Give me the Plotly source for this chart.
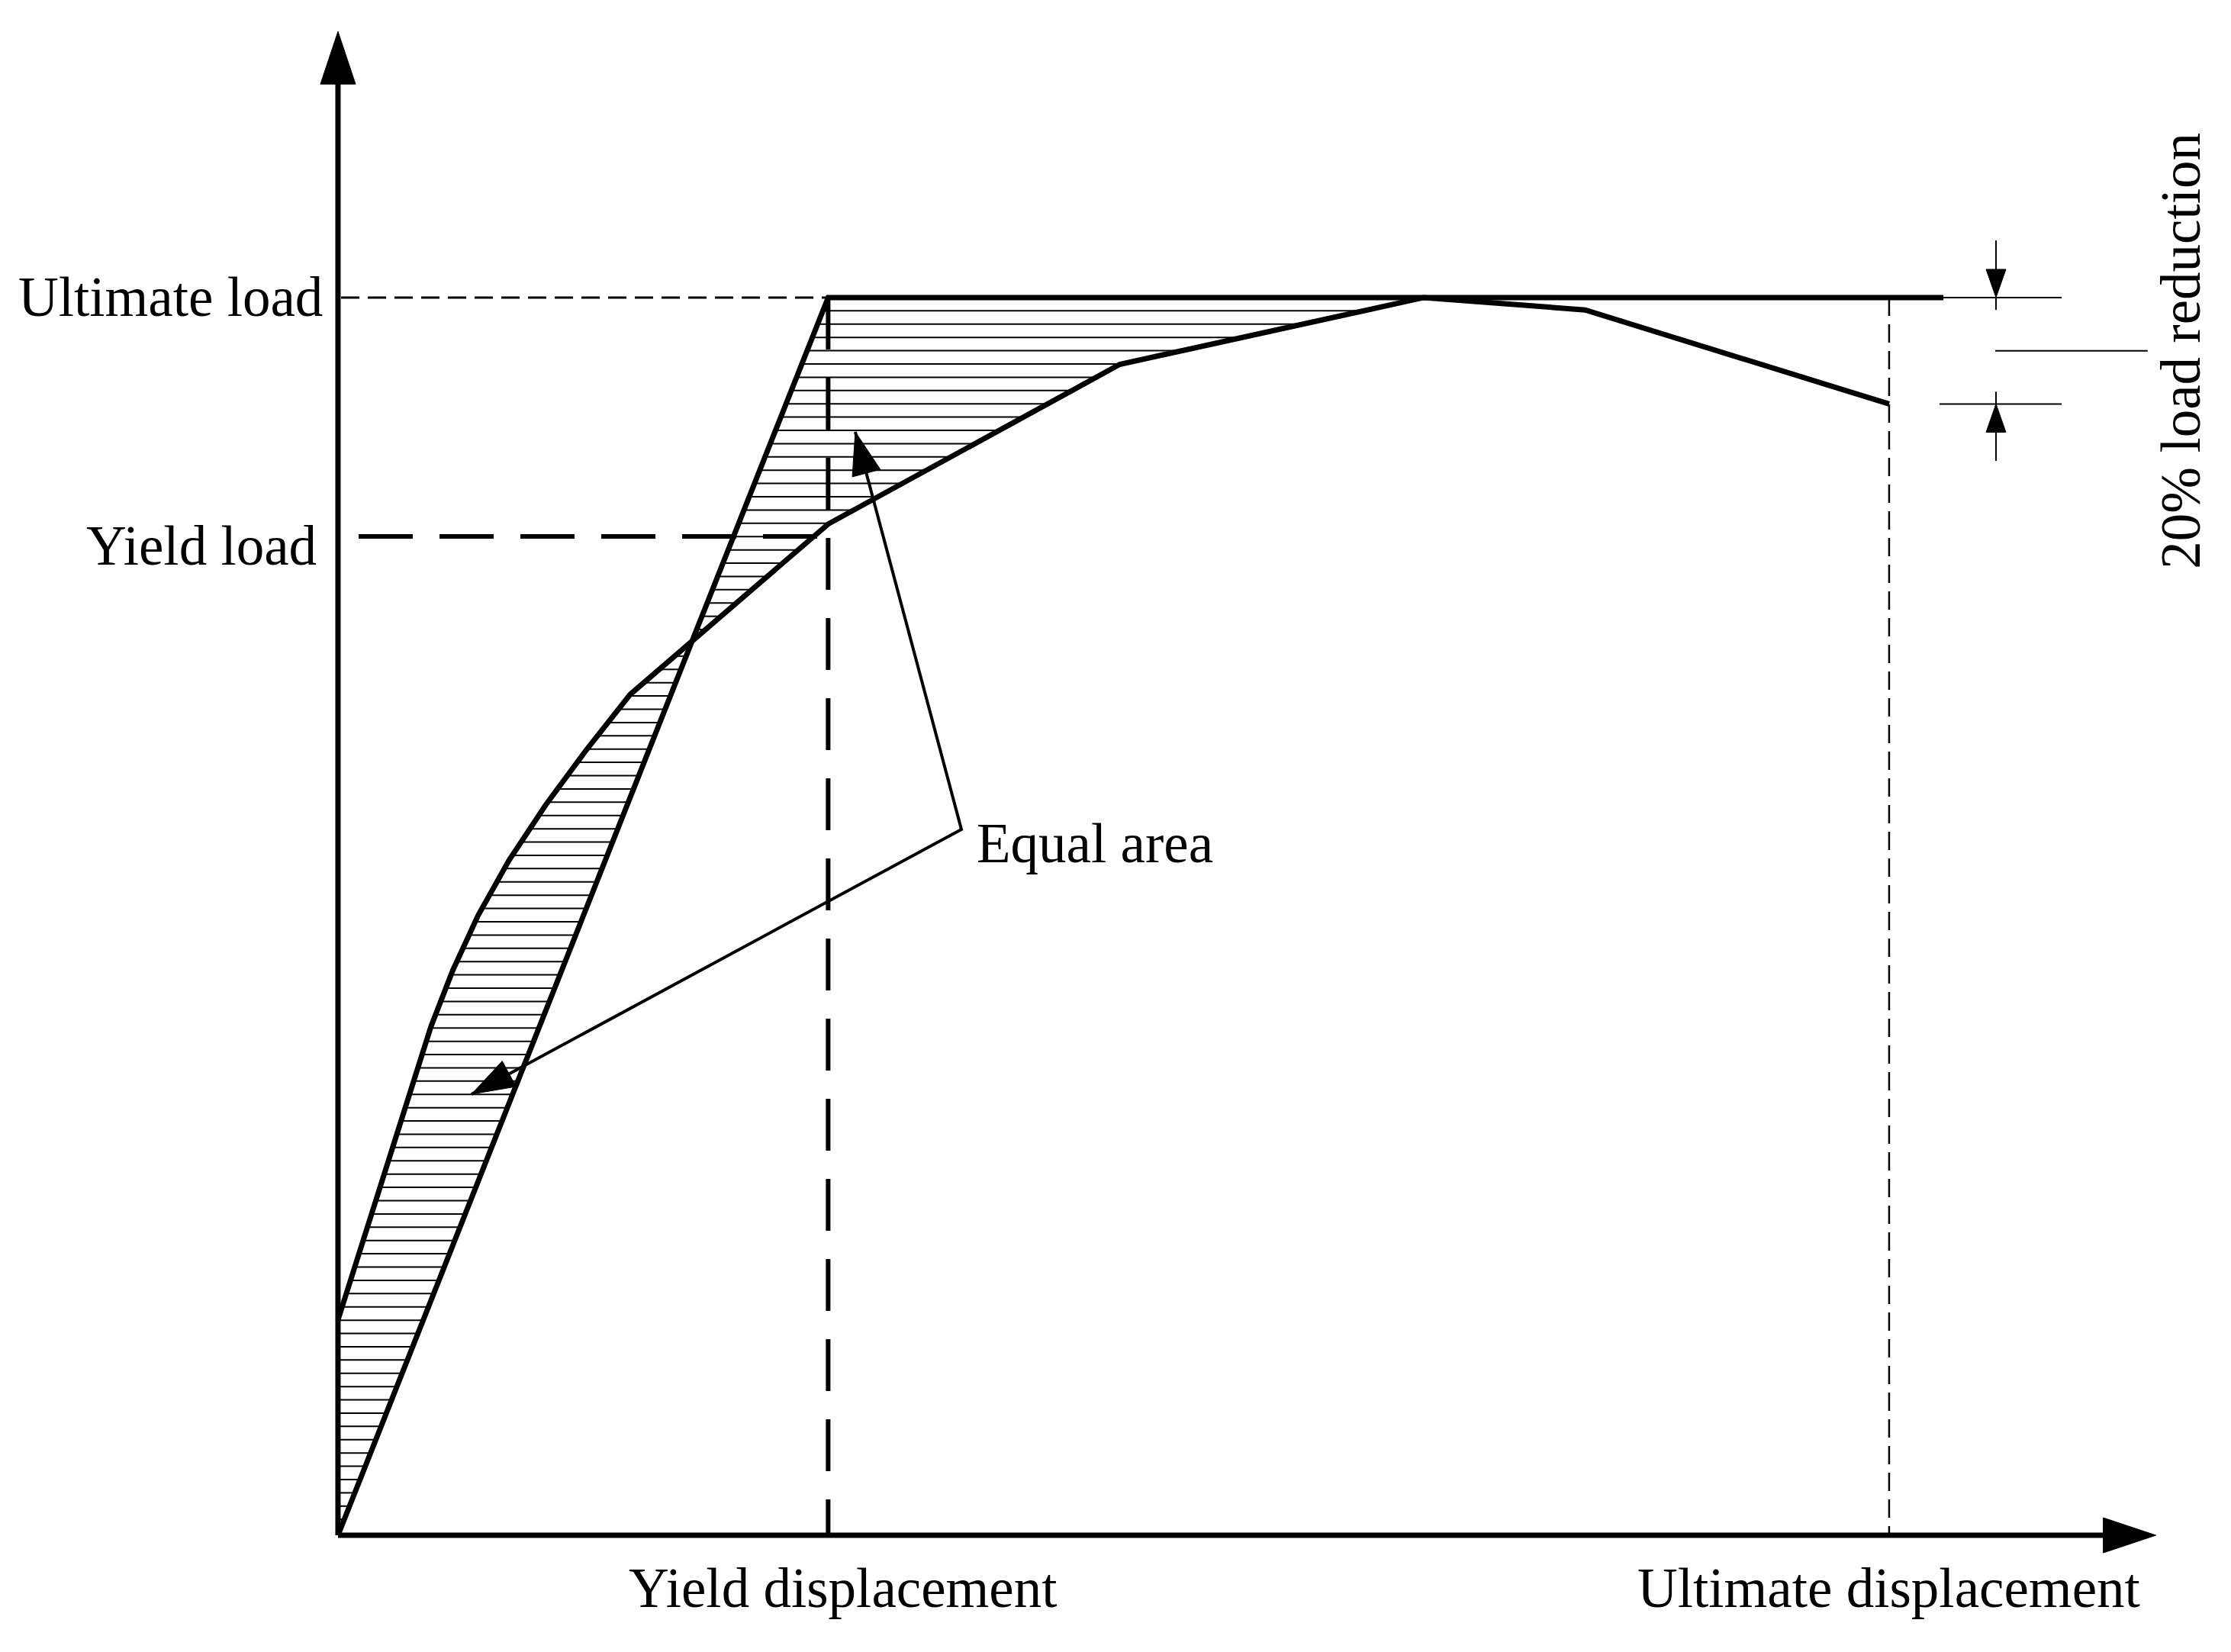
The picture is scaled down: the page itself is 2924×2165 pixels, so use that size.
import numpy as np
import plotly.graph_objects as go

# ---------------- data (normalised: displacement / ultimate displacement, load / ultimate load)
DISP_YIELD = 0.316
DISP_ULT = 1.0
LOAD_YIELD = 0.807
LOAD_ULT = 1.0

curve_disp = [0.0, 0.0600, 0.0739, 0.0903, 0.1103, 0.1339, 0.1602, 0.1884, 0.316, 0.504, 0.700, 0.804, 1.0]
curve_load = [0.174, 0.4112, 0.4561, 0.5007, 0.5454, 0.5900, 0.6347, 0.6794, 0.817, 0.946, 1.0, 0.990, 0.914]

bilinear_disp = [0.0, DISP_YIELD, 1.035]
bilinear_load = [0.0, LOAD_ULT, LOAD_ULT]

labels_y = ["Ultimate load", "Yield load"]
labels_x = ["Yield displacement", "Ultimate displacement"]
label_note = "Equal area"
label_reduction = "20% load reduction"

# ---------------- layout constants
W, H = 2924, 2165
X_RANGE = [-0.2179, 1.2204]
Y_RANGE = [-0.0943, 1.2404]
X_AXIS_END = 1.172
Y_AXIS_END = 1.215
SX = W / (X_RANGE[1] - X_RANGE[0])   # px per unit
SY = H / (Y_RANGE[1] - Y_RANGE[0])
HATCH_STEP = 0.01073
FONT = dict(family="Liberation Serif, Times New Roman, serif", size=73, color="black")

fig = go.Figure()


def add_line(xs, ys, width, dash="solid"):
    fig.add_trace(go.Scatter(x=xs, y=ys, mode="lines",
                             line=dict(color="black", width=width, dash=dash),
                             hoverinfo="skip"))


def add_head(tip, frm, length, half):
    tx, ty = tip[0] * SX, -tip[1] * SY
    fx, fy = frm[0] * SX, -frm[1] * SY
    d = np.array([tx - fx, ty - fy])
    u = d / np.linalg.norm(d)
    n = np.array([-u[1], u[0]])
    b = np.array([tx, ty]) - u * length
    p1 = b + n * half
    p2 = b - n * half
    xs = [tx / SX, p1[0] / SX, p2[0] / SX, tx / SX]
    ys = [-ty / SY, -p1[1] / SY, -p2[1] / SY, -ty / SY]
    fig.add_trace(go.Scatter(x=xs, y=ys, mode="lines", fill="toself",
                             fillcolor="black", line=dict(color="black", width=1),
                             hoverinfo="skip"))


# ---------------- hatching between curve and bilinear idealisation
cd = np.array(curve_disp)
cl = np.array(curve_load)
diff = cl - cd / DISP_YIELD * LOAD_ULT
idx = int(np.where(np.sign(diff[:-1]) != np.sign(diff[1:]))[0][0])
t = diff[idx] / (diff[idx] - diff[idx + 1])
cx = cd[idx] + t * (cd[idx + 1] - cd[idx])
cy = cl[idx] + t * (cl[idx + 1] - cl[idx])
peak = int(np.argmax(cl))

poly_low = [(0.0, 0.0), (0.0, cl[0])] + [(cd[k], cl[k]) for k in range(0, idx + 1)] + [(cx, cy)]
poly_up = [(cx, cy), (DISP_YIELD, LOAD_ULT)] + [(cd[k], cl[k]) for k in range(peak, idx, -1)]


def scan(poly, y):
    xs = []
    n = len(poly)
    for k in range(n):
        x1, y1 = poly[k]
        x2, y2 = poly[(k + 1) % n]
        if (y1 <= y < y2) or (y2 <= y < y1):
            xs.append(x1 + (y - y1) * (x2 - x1) / (y2 - y1))
    xs.sort()
    return [(xs[i], xs[i + 1]) for i in range(0, len(xs) - 1, 2)]


hx, hy = [], []
k = 1
while LOAD_ULT - k * HATCH_STEP > 0.002:
    y = LOAD_ULT - k * HATCH_STEP
    for poly in (poly_low, poly_up):
        for a, b in scan(poly, y):
            hx += [a, b, None]
            hy += [y, y, None]
    k += 1
add_line(hx, hy, 2)

# ---------------- reference dashed lines
add_line([0.002, DISP_YIELD], [LOAD_ULT, LOAD_ULT], 3, "24px,11px")
add_line([0.0133, DISP_YIELD], [LOAD_YIELD, LOAD_YIELD], 6, "71px,35px")
add_line([DISP_YIELD, DISP_YIELD], [LOAD_ULT, 0.0], 6, "68px,37px")
add_line([DISP_ULT, DISP_ULT], [LOAD_ULT, 0.0], 2.5, "24px,11px")

# ---------------- axes
add_line([0, 0], [0, Y_AXIS_END - 0.03], 7)
add_line([0, X_AXIS_END - 0.02], [0, 0], 7)
add_head((0, Y_AXIS_END), (0, 0), 69, 23)
add_head((X_AXIS_END, 0), (0, 0), 69, 23)

# ---------------- main curves
add_line(bilinear_disp, bilinear_load, 7)
add_line(curve_disp, curve_load, 7)

# ---------------- 20% load reduction dimension
dim_x = 1.0689
add_line([bilinear_disp[-1], 1.1112], [LOAD_ULT, LOAD_ULT], 2)
add_line([1.0325, 1.1112], [curve_load[-1], curve_load[-1]], 2)
mid = (LOAD_ULT + curve_load[-1]) / 2
add_line([1.0684, 1.1667], [mid, mid], 2)
add_line([dim_x, dim_x], [1.0462, LOAD_ULT - 0.01], 2)
add_head((dim_x, LOAD_ULT), (dim_x, 1.0462), 37, 13)
add_line([dim_x, dim_x], [0.8681, curve_load[-1] + 0.01], 2)
add_head((dim_x, curve_load[-1]), (dim_x, 0.8681), 37, 13)

# ---------------- "Equal area" leaders
vtx = (0.4019, 0.5703)
tip_up = (0.3335, 0.8915)
tip_low = (0.0861, 0.3564)
add_line([tip_up[0], vtx[0], tip_low[0]], [tip_up[1], vtx[1], tip_low[1]], 4)
add_head(tip_up, vtx, 56, 19)
add_head(tip_low, vtx, 56, 19)

# ---------------- text
ann = [
    dict(x=-0.0089, y=LOAD_ULT, text=labels_y[0], xanchor="right", yanchor="middle"),
    dict(x=-0.0128, y=LOAD_YIELD, text=labels_y[1], xanchor="right", yanchor="middle", yshift=-12),
    dict(x=0.3256, y=-0.043, text=labels_x[0], xanchor="center", yanchor="middle"),
    dict(x=DISP_ULT, y=-0.043, text=labels_x[1], xanchor="center", yanchor="middle"),
    dict(x=0.4107, y=0.559, text=label_note, xanchor="left", yanchor="middle"),
    dict(x=1.1884, y=mid, text=label_reduction, xanchor="center", yanchor="middle", textangle=-90),
]
for a in ann:
    fig.add_annotation(xref="x", yref="y", showarrow=False, font=FONT, **a)

fig.update_layout(
    width=W, height=H, margin=dict(l=0, r=0, t=0, b=0),
    paper_bgcolor="white", plot_bgcolor="white", showlegend=False,
    xaxis=dict(range=X_RANGE, visible=False, fixedrange=True),
    yaxis=dict(range=Y_RANGE, visible=False, fixedrange=True),
)

fig.write_html("out.html", config={"displayModeBar": False},
               post_script="document.body.style.margin='0px';document.body.style.overflow='hidden';")
